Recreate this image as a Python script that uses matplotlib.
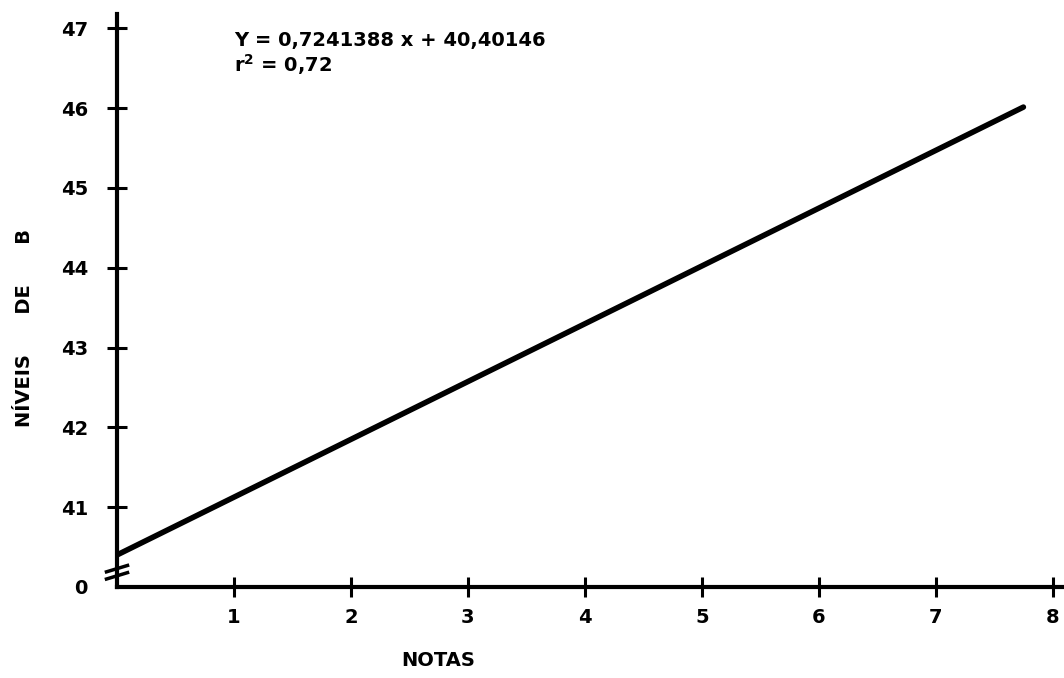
import numpy as np
import matplotlib
matplotlib.use("Agg")
import matplotlib.pyplot as plt

# Regression of boron levels on scores
slope = 0.7241388
intercept = 40.40146
x_start, x_end = 0.0, 7.75
x_ticks = [1, 2, 3, 4, 5, 6, 7, 8]
y_ticks = [41, 42, 43, 44, 45, 46, 47]
y_floor = 40.0  # where the broken axis shows "0"

plt.rcParams['font.family'] = ['DejaVu Sans']
plt.rcParams['font.weight'] = 'bold'

fig = plt.figure(figsize=(10.64, 6.78), dpi=100)
ax = fig.add_axes([117/1064, 91/678, (1062-117)/1064, (587-14)/678])

xs = np.array([x_start, x_end])
ax.plot(xs, slope * xs + intercept, color='black', lw=4, solid_capstyle='round')

ax.set_xlim(0, 8.08)
ax.set_ylim(y_floor, 47.18)

for s in ['top', 'right']:
    ax.spines[s].set_visible(False)
for s in ['left', 'bottom']:
    ax.spines[s].set_linewidth(3)

ax.set_xticks(x_ticks)
ax.set_xticklabels([str(t) for t in x_ticks])
ax.set_yticks([y_floor] + y_ticks)
ax.set_yticklabels(['0'] + [str(t) for t in y_ticks])
ax.tick_params(axis='both', direction='inout', length=14, width=2.2,
               labelsize=14)
ax.tick_params(axis='x', pad=8)
ax.tick_params(axis='y', pad=14)
ax.yaxis.get_major_ticks()[0].tick1line.set_visible(False)
ax.get_yticklabels()[0].set_y(y_floor - 0.12)

# axis break marks on the y axis
for dy in (0.0, 0.09):
    ax.plot([-0.09, 0.09], [40.14 + dy - 0.04, 40.14 + dy + 0.04],
            color='black', lw=2.5, clip_on=False)

fig.text(438/1064, 1 - 660/678, 'NOTAS', ha='center', va='center',
         fontsize=14, fontweight='bold')
fig.text(25/1064, 1 - 328/678, 'NÍVEIS      DE      B', ha='center',
         va='center', rotation=90, fontsize=14, fontweight='bold')

ax.text(1.0, 46.85, 'Y = 0,7241388 x + 40,40146', fontsize=14,
        fontweight='bold', va='center')
ax.text(1.0, 46.55, r'r$^{\mathbf{2}}$ = 0,72', fontsize=14,
        fontweight='bold', va='center')

fig.savefig('out.png', dpi=100, facecolor='white')
